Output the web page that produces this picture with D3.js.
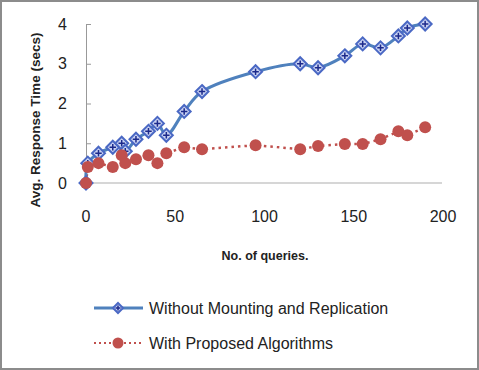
<!DOCTYPE html>
<html>
<head>
<meta charset="utf-8">
<script src="https://cdn.jsdelivr.net/npm/d3@7"></script>
<style>
  body { margin: 0; background: #fff; }
  svg { display: block; font-family: "Liberation Sans", Arial, sans-serif; }
</style>
</head>
<body>
<svg id="chart"></svg>
<script>
// values
const queries = [0, 1, 7, 15, 20, 22, 28, 35, 40, 45, 55, 65, 95, 120, 130, 145, 155, 165, 175, 180, 190];
const withoutMounting = [0, 0.5, 0.75, 0.9, 1.0, 0.8, 1.1, 1.3, 1.5, 1.2, 1.8, 2.3, 2.8, 3.0, 2.9, 3.2, 3.5, 3.4, 3.7, 3.9, 4.0];
const withProposed = [0, 0.4, 0.5, 0.4, 0.7, 0.5, 0.6, 0.7, 0.5, 0.75, 0.9, 0.85, 0.95, 0.85, 0.93, 0.98, 0.98, 1.1, 1.3, 1.2, 1.4];
const xTicks = [0, 50, 100, 150, 200];
const yTicks = [0, 1, 2, 3, 4];
const seriesNames = ["Without Mounting and Replication", "With Proposed Algorithms"];

const width = 479, height = 370;
const blue = "#4f81bd", red = "#c0504d";

const svg = d3.select("#chart").attr("width", width).attr("height", height);

// outer frame
svg.append("rect")
  .attr("x", 1).attr("y", 1)
  .attr("width", width - 2).attr("height", height - 2)
  .attr("fill", "#fff").attr("stroke", "#8c8c8c").attr("stroke-width", 2);

const x = d3.scaleLinear().domain([0, 200]).range([86, 443]);
const y = d3.scaleLinear().domain([0, 4]).range([183, 24]);

// x axis line (no ticks)
svg.append("line")
  .attr("x1", x(0)).attr("x2", 442)
  .attr("y1", y(0)).attr("y2", y(0))
  .attr("stroke", "#c8c8c8").attr("stroke-width", 1.5);

// y axis with inside ticks
const yAxis = svg.append("g")
  .attr("transform", `translate(${x(0)},0)`)
  .call(d3.axisLeft(y).tickValues(yTicks).tickSize(-5).tickPadding(19).tickFormat(d3.format("d")));
yAxis.select(".domain").attr("stroke", "#999");
yAxis.selectAll(".tick line").attr("stroke", "#999");
yAxis.selectAll("text").attr("font-size", 16).attr("fill", "#222");

// x tick labels
svg.append("g")
  .selectAll("text")
  .data(xTicks)
  .join("text")
  .attr("x", d => x(d))
  .attr("y", 222)
  .attr("text-anchor", "middle")
  .attr("font-size", 16)
  .attr("fill", "#222")
  .text(d => d);

// axis titles
svg.append("text")
  .attr("transform", "translate(40,120) rotate(-90)")
  .attr("text-anchor", "middle")
  .attr("font-size", 13.5)
  .attr("font-weight", "bold")
  .attr("fill", "#222")
  .text("Avg. Response Time (secs)");

svg.append("text")
  .attr("x", 265).attr("y", 260)
  .attr("text-anchor", "middle")
  .attr("font-size", 12.5)
  .attr("font-weight", "bold")
  .attr("fill", "#222")
  .text("No. of queries.");

const blueData = queries.map((q, i) => [q, withoutMounting[i]]);
const redData = queries.map((q, i) => [q, withProposed[i]]);

const line = d3.line()
  .x(d => x(d[0]))
  .y(d => y(d[1]));

svg.append("path")
  .datum(redData)
  .attr("fill", "none")
  .attr("stroke", red)
  .attr("stroke-width", 2.5)
  .attr("stroke-dasharray", "2.5,4")
  .attr("d", line);

svg.append("path")
  .datum(blueData)
  .attr("fill", "none")
  .attr("stroke", blue)
  .attr("stroke-width", 3)
  .attr("d", line.curve(d3.curveCatmullRom.alpha(0.5)));

function diamond(g, s) {
  g.append("path")
    .attr("d", `M0,${-s}L${s},0L0,${s}L${-s},0Z`)
    .attr("fill", "#c9d2f2")
    .attr("stroke", "#4a68c4")
    .attr("stroke-width", 2);
  g.append("path")
    .attr("d", `M${-s * 0.5},0H${s * 0.5}M0,${-s * 0.5}V${s * 0.5}`)
    .attr("stroke", "#1c2a8c")
    .attr("stroke-width", 1.5);
}

svg.append("g")
  .selectAll("g")
  .data(blueData)
  .join("g")
  .attr("transform", d => `translate(${x(d[0])},${y(d[1])})`)
  .each(function () { diamond(d3.select(this), 6.5); });

svg.append("g")
  .selectAll("circle")
  .data(redData)
  .join("circle")
  .attr("cx", d => x(d[0]))
  .attr("cy", d => y(d[1]))
  .attr("r", 6)
  .attr("fill", red);

// legend
const legend = svg.append("g");
const rows = [308, 343];

legend.append("line")
  .attr("x1", 94).attr("x2", 143)
  .attr("y1", rows[0]).attr("y2", rows[0])
  .attr("stroke", blue).attr("stroke-width", 3);
diamond(legend.append("g").attr("transform", `translate(118,${rows[0]})`), 5);

legend.append("line")
  .attr("x1", 94).attr("x2", 143)
  .attr("y1", rows[1]).attr("y2", rows[1])
  .attr("stroke", red).attr("stroke-width", 2)
  .attr("stroke-dasharray", "2,3");
legend.append("circle")
  .attr("cx", 118).attr("cy", rows[1]).attr("r", 5.5).attr("fill", red);

legend.selectAll("text")
  .data(seriesNames)
  .join("text")
  .attr("x", 149)
  .attr("y", (d, i) => rows[i] + 6)
  .attr("font-size", 16)
  .attr("fill", "#222")
  .text(d => d);
</script>
</body>
</html>
